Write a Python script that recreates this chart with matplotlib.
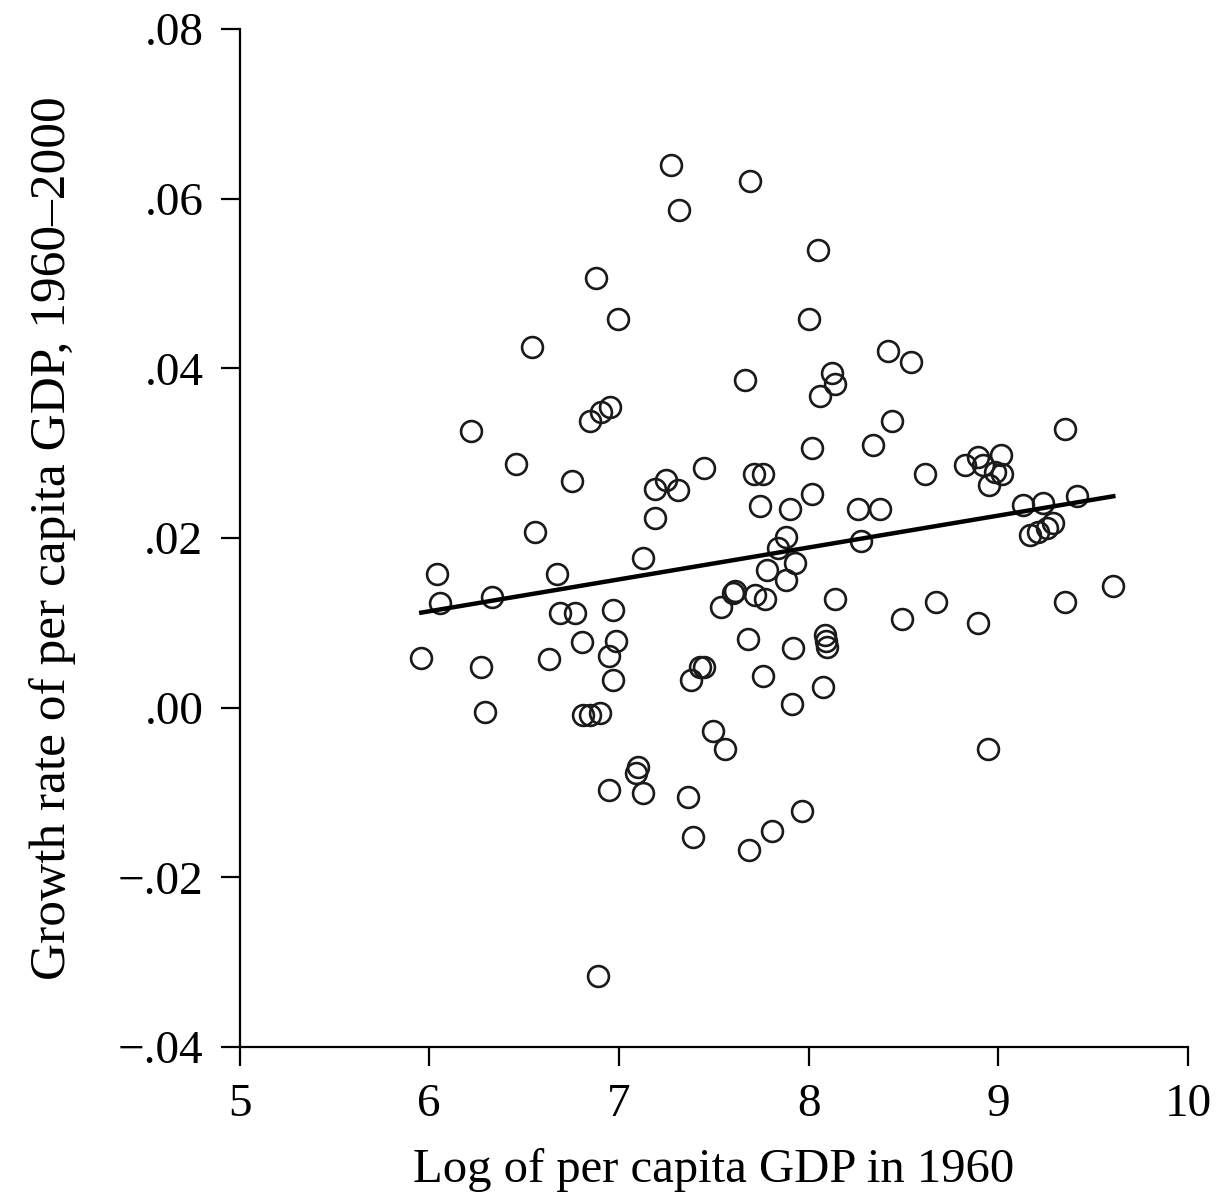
import numpy as np
import matplotlib
matplotlib.use("Agg")
import matplotlib.pyplot as plt

plt.rcParams['font.family'] = ['Liberation Serif', 'DejaVu Serif']

# log per capita GDP 1960 (x) and growth rate 1960-2000 (y)
log_gdp = [5.958, 6.041, 6.055, 6.218, 6.274, 6.292, 6.333, 6.456, 6.540, 6.556,
           6.631, 6.674, 6.688, 6.755, 6.767, 6.807, 6.811, 6.846, 6.846, 6.878,
           6.888, 6.899, 6.907, 6.948, 6.949, 6.951, 6.969, 6.969, 6.986, 6.995,
           7.089, 7.101, 7.127, 7.128, 7.189, 7.189, 7.250, 7.277, 7.312, 7.315,
           7.365, 7.382, 7.389, 7.426, 7.447, 7.447, 7.496, 7.540, 7.558, 7.602,
           7.611, 7.667, 7.681, 7.685, 7.690, 7.711, 7.716, 7.743, 7.760, 7.760,
           7.769, 7.778, 7.806, 7.839, 7.883, 7.883, 7.901, 7.914, 7.918, 7.927,
           7.964, 8.003, 8.020, 8.020, 8.047, 8.059, 8.077, 8.085, 8.094, 8.098,
           8.121, 8.138, 8.138, 8.261, 8.278, 8.340, 8.376, 8.419, 8.440, 8.494,
           8.539, 8.616, 8.674, 8.824, 8.891, 8.894, 8.920, 8.947, 8.952, 8.982,
           9.014, 9.017, 9.131, 9.167, 9.210, 9.234, 9.255, 9.290, 9.351, 9.351,
           9.413, 9.606]
growth = [0.0058, 0.0158, 0.0123, 0.0326, 0.0048, -0.0005, 0.0131, 0.0287, 0.0425, 0.0207,
          0.0057, 0.0158, 0.0111, 0.0267, 0.0111, 0.0077, -0.0009, -0.0009, 0.0338, 0.0507,
          -0.0316, -0.0006, 0.0349, 0.0061, -0.0097, 0.0354, 0.0115, 0.0033, 0.0078, 0.0458,
          -0.0077, -0.0070, 0.0176, -0.0101, 0.0258, 0.0224, 0.0268, 0.0640, 0.0257, 0.0587,
          -0.0105, 0.0033, -0.0152, 0.0048, 0.0048, 0.0282, -0.0028, 0.0119, -0.0049, 0.0135,
          0.0137, 0.0386, 0.0081, -0.0168, 0.0621, 0.0276, 0.0133, 0.0238, 0.0276, 0.0037,
          0.0128, 0.0162, -0.0145, 0.0188, 0.0201, 0.0150, 0.0234, 0.0004, 0.0070, 0.0170,
          -0.0122, 0.0458, 0.0306, 0.0252, 0.0539, 0.0367, 0.0024, 0.0086, 0.0078, 0.0072,
          0.0394, 0.0382, 0.0128, 0.0234, 0.0196, 0.0310, 0.0234, 0.0420, 0.0338, 0.0104,
          0.0407, 0.0276, 0.0125, 0.0286, 0.0296, 0.0100, 0.0286, -0.0049, 0.0262, 0.0278,
          0.0298, 0.0275, 0.0239, 0.0204, 0.0207, 0.0241, 0.0212, 0.0218, 0.0329, 0.0125,
          0.0249, 0.0143]

# fitted line
fit_intercept = -0.0112
fit_slope = 0.00376

x_ticks = [5, 6, 7, 8, 9, 10]
y_ticks = [-0.04, -0.02, 0.00, 0.02, 0.04, 0.06, 0.08]
y_tick_labels = ['\u2212.04', '\u2212.02', '.00', '.02', '.04', '.06', '.08']

fig = plt.figure(figsize=(12.16, 11.99), dpi=100)
ax = fig.add_axes([0.197, 0.1268, 0.78, 0.849])

ax.plot(log_gdp, growth, 'o', mfc='none', mec='#1a1a1a', ms=15, mew=1.9)
xs = np.array([min(log_gdp), max(log_gdp)])
ax.plot(xs, fit_intercept + fit_slope * xs, color='black', lw=3.2)

ax.set_xlim(5, 10)
ax.set_ylim(-0.04, 0.08)
ax.set_xticks(x_ticks)
ax.set_yticks(y_ticks)
ax.set_yticklabels(y_tick_labels)

for s in ['top', 'right']:
    ax.spines[s].set_visible(False)
for s in ['left', 'bottom']:
    ax.spines[s].set_linewidth(1.6)
ax.tick_params(direction='out', length=14, width=1.6, labelsize=34, pad=12)

ax.set_xlabel('Log of per capita GDP in 1960', fontsize=35, labelpad=16)
ax.set_ylabel('Growth rate of per capita GDP, 1960\u20132000', fontsize=37, labelpad=30)

plt.savefig('out.png', dpi=100)
